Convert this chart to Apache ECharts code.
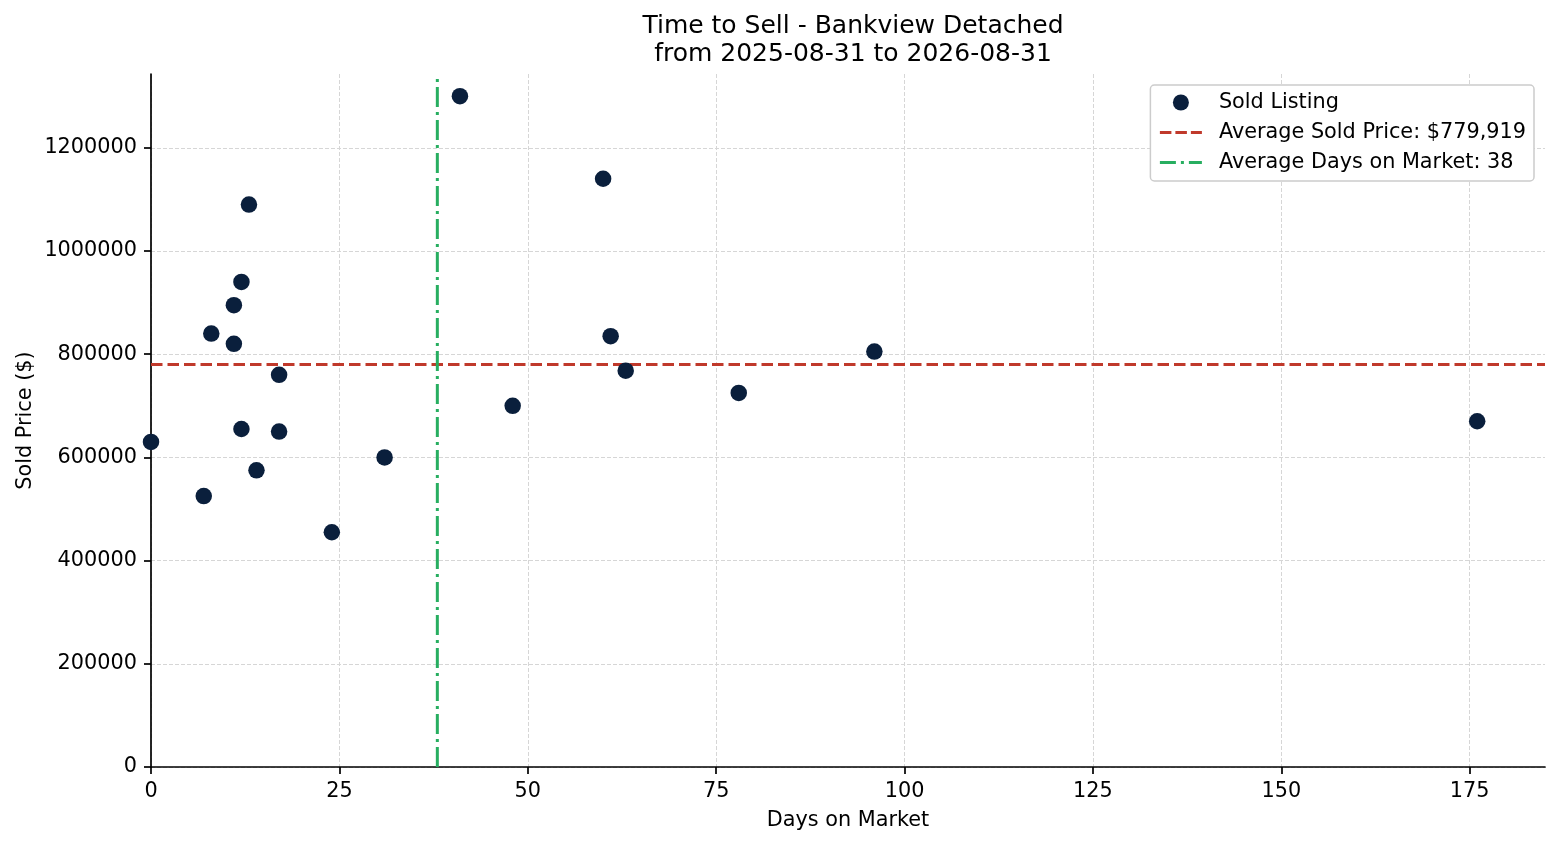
<!DOCTYPE html>
<html><head><meta charset="utf-8">
<script src="https://cdn.jsdelivr.net/npm/echarts@6/dist/echarts.min.js"></script>
<style>html,body{margin:0;padding:0;background:#fff}#c{width:1560px;height:845px}</style>
</head><body><div id="c"></div>
<script>
const days = [0, 7, 8, 11, 11, 12, 12, 13, 14, 17, 17, 24, 31, 41, 48, 60, 61, 63, 78, 96, 176];
const prices = [630000, 525000, 840000, 895000, 820000, 940000, 655000, 1090000, 575000, 760000, 650000, 455000, 600000, 1300000, 700000, 1140000, 835000, 768000, 725000, 805000, 670000];
const avgPrice = 779919;
const avgDays = 38;
const xTicks = [0, 25, 50, 75, 100, 125, 150, 175];
const yTicks = [0, 200000, 400000, 600000, 800000, 1000000, 1200000];
const xMax = 185, yMax = 1343000;

const font = 'DejaVu Sans';
const fs = 20.8;
const chart = echarts.init(document.getElementById('c'));
const gridLine = {show: true, lineStyle: {color: '#d6d6d6', type: [4, 2], width: 1}};
chart.setOption({
  animation: false,
  textStyle: {fontFamily: font},
  title: {
    text: 'Time to Sell - Bankview Detached\nfrom 2025-08-31 to 2026-08-31',
    left: 848, top: 7, textAlign: 'center',
    textStyle: {fontFamily: font, fontSize: 25, fontWeight: 'normal', color: '#000', lineHeight: 28}
  },
  grid: {left: 151, right: 15, top: 74, bottom: 78, containLabel: false, outerBoundsMode: 'none'},
  legend: {
    right: 26, top: 85, orient: 'vertical', align: 'left',
    backgroundColor: '#fff', borderColor: '#cccccc', borderWidth: 1.5, borderRadius: 4,
    padding: [7, 8, 8, 8], itemGap: 9, itemWidth: 42, itemHeight: 16,
    textStyle: {fontFamily: font, fontSize: fs, color: '#000', padding: [0, 0, 0, 12]},
    data: [
      {name: 'Sold Listing', icon: 'circle'},
      {name: 'Average Sold Price: $779,919', itemStyle: {opacity: 0},
        lineStyle: {width: 3, type: [11.5, 4]}},
      {name: 'Average Days on Market: 38', itemStyle: {opacity: 0},
        lineStyle: {width: 3, type: [16, 5, 3, 5]}}
    ]
  },
  xAxis: {
    type: 'value', min: 0, max: xMax,
    name: 'Days on Market', nameLocation: 'middle', nameGap: 43, nameMoveOverlap: false,
    nameTextStyle: {fontFamily: font, fontSize: fs, color: '#000'},
    axisLine: {show: true, onZero: false, lineStyle: {color: '#000', width: 1.7}},
    axisTick: {show: true, length: 7, customValues: xTicks, lineStyle: {color: '#000', width: 1.7}},
    axisLabel: {fontFamily: font, fontSize: fs, color: '#000', margin: 14, customValues: xTicks,
      formatter: v => String(v)},
    splitLine: gridLine
  },
  yAxis: {
    type: 'value', min: 0, max: yMax,
    name: 'Sold Price ($)', nameLocation: 'middle', nameGap: 115, nameMoveOverlap: false,
    nameTextStyle: {fontFamily: font, fontSize: fs, color: '#000'},
    axisLine: {show: true, onZero: false, lineStyle: {color: '#000', width: 1.7}},
    axisTick: {show: true, length: 7, customValues: yTicks, lineStyle: {color: '#000', width: 1.7}},
    axisLabel: {fontFamily: font, fontSize: fs, color: '#000', margin: 14, customValues: yTicks,
      formatter: v => String(v)},
    splitLine: gridLine
  },
  series: [
    {
      name: 'Average Sold Price: $779,919', type: 'line', symbol: 'none', z: 3,
      data: [[0, avgPrice], [xMax, avgPrice]],
      lineStyle: {color: '#c0392b', width: 3, type: [11.5, 5]},
      itemStyle: {color: '#c0392b'}
    },
    {
      name: 'Average Days on Market: 38', type: 'line', symbol: 'none', z: 3,
      data: [[avgDays, 0], [avgDays, yMax]],
      lineStyle: {color: '#27ae60', width: 3, type: [20, 5, 3, 5]},
      itemStyle: {color: '#27ae60'}
    },
    {
      name: 'Sold Listing', type: 'scatter', symbol: 'circle', symbolSize: 16.5, z: 4,
      data: days.map((d, i) => [d, prices[i]]),
      itemStyle: {color: '#0a1f3c', opacity: 1}
    }
  ]
});
</script></body></html>
